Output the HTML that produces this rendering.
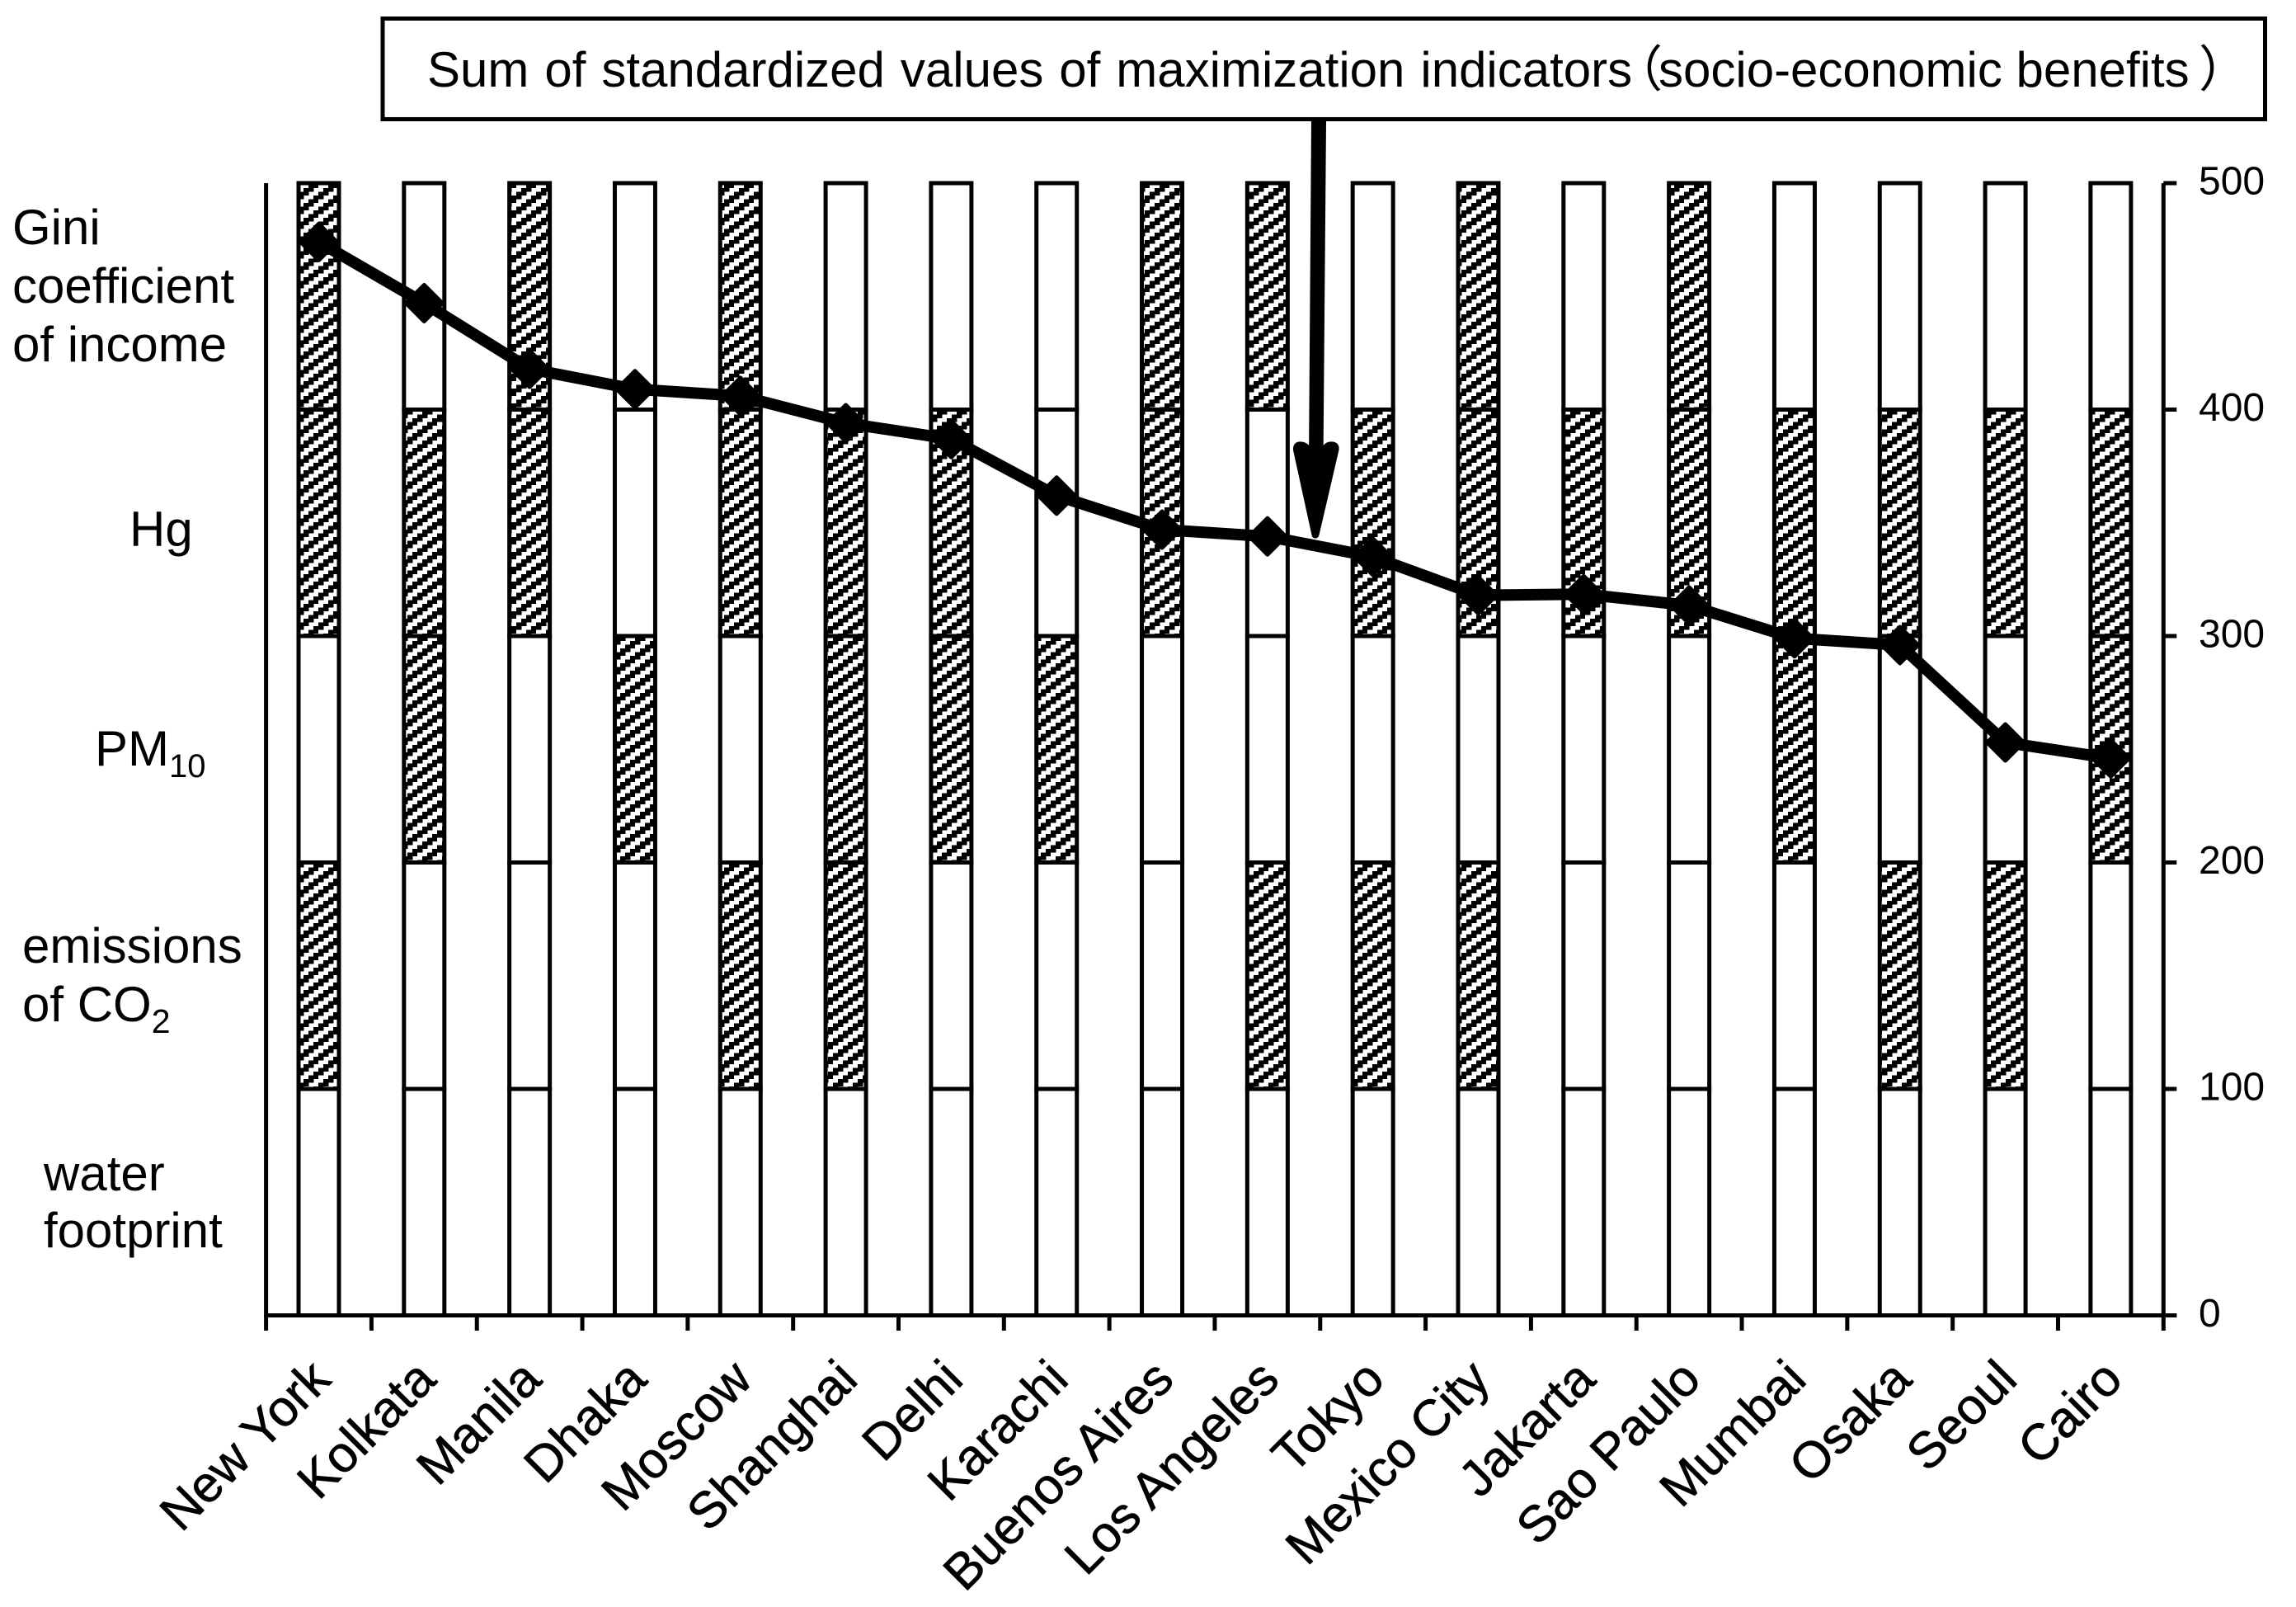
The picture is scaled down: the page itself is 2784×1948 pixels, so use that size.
<!DOCTYPE html>
<html lang="en">
<head>
<meta charset="utf-8">
<title>Sum of standardized values by city</title>
<style>
html,body{margin:0;padding:0;background:#fff;width:2784px;height:1948px;overflow:hidden}
svg{display:block}
text{font-family:"Liberation Sans","Noto Sans CJK JP",sans-serif;fill:#000}
</style>
</head>
<body>
<svg id="chart" xmlns="http://www.w3.org/2000/svg" width="2784" height="1948" viewBox="0 0 2784 1948">
  <defs>
    <pattern id="hatch" patternUnits="userSpaceOnUse" width="24" height="18" x="2" y="3">
      <rect width="24" height="18" fill="#fff"/>
      <rect x="0" y="13.5" width="6.5" height="9" fill="#000"/>
      <rect x="0" y="-4.5" width="6.5" height="9" fill="#000"/>
      <rect x="6" y="9" width="6.5" height="9" fill="#000"/>
      <rect x="12" y="4.5" width="6.5" height="9" fill="#000"/>
      <rect x="18" y="0" width="6" height="9" fill="#000"/>
    </pattern>
  </defs>
  <rect width="2784" height="1948" fill="#fff"/>
  <g id="bars"></g>
  <g id="axes"></g>
  <g id="line-series"></g>

  <g>
    <path d="M1590 147 L1608 147 L1604.5 560 L1587 560 Z" fill="#000"/>
    <path d="M1595 648 L1572.5 545 Q1572 539 1578 540 Q1585 541 1587 550 L1605 550 Q1607 541 1613 540 Q1620 539 1619 545 Z" fill="#000" stroke="#000" stroke-width="9" stroke-linejoin="round"/>
    <rect x="464" y="22.5" width="2282.5" height="122" fill="#fff" stroke="#000" stroke-width="5"/>
    <text y="105" font-size="60"><tspan x="518" word-spacing="2.3">Sum of standardized values of maximization indicators</tspan><tspan x="1956">（</tspan><tspan x="2011">socio-economic benefits</tspan><tspan x="2666">）</tspan></text>
  </g>

  <g font-size="60">
    <text><tspan x="15" y="296">Gini</tspan><tspan x="15" y="367">coefficient</tspan><tspan x="15" y="438">of income</tspan></text>
    <text x="157" y="662">Hg</text>
    <text x="115" y="928">PM<tspan font-size="40" dy="14">10</tspan></text>
    <text><tspan x="27" y="1167">emissions</tspan><tspan x="27" y="1238">of CO</tspan><tspan font-size="41" dy="14">2</tspan></text>
    <text><tspan x="53" y="1443">water</tspan><tspan x="53" y="1512">footprint</tspan></text>
  </g>
</svg>
<script>
const categories = ["New York","Kolkata","Manila","Dhaka","Moscow","Shanghai","Delhi","Karachi","Buenos Aires","Los Angeles","Tokyo","Mexico City","Jakarta","Sao Paulo","Mumbai","Osaka","Seoul","Cairo"];
const sumValues = [474,447,418,409,406,394,387,362,347,344,335,318,318.5,313.5,299,296,253,246];
const yTickLabels = [0,100,200,300,400,500];
const segmentNames = ["water-footprint","co2","pm10","hg","gini"];
const waterValues = [100,100,100,100,100,100,100,100,100,100,100,100,100,100,100,100,100,100];
const co2Values = [100,100,100,100,100,100,100,100,100,100,100,100,100,100,100,100,100,100];
const pm10Values = [100,100,100,100,100,100,100,100,100,100,100,100,100,100,100,100,100,100];
const hgValues = [100,100,100,100,100,100,100,100,100,100,100,100,100,100,100,100,100,100];
const giniValues = [100,100,100,100,100,100,100,100,100,100,100,100,100,100,100,100,100,100];
const waterHatched = [0,0,0,0,0,0,0,0,0,0,0,0,0,0,0,0,0,0];
const co2Hatched = [1,0,0,0,1,1,0,0,0,1,1,1,0,0,0,1,1,0];
const pm10Hatched = [0,1,0,1,0,1,1,1,0,0,0,0,0,0,1,0,0,1];
const hgHatched = [1,1,1,0,1,1,1,0,1,0,1,1,1,1,1,1,1,1];
const giniHatched = [1,0,1,0,1,0,0,0,1,1,0,1,0,1,0,0,0,0];

const SVGNS = "http://www.w3.org/2000/svg";
const plotLeft = 322.6, plotRight = 2623.3, plotBottom = 1594.5, plotTop = 222, yMax = 500;
function xScale(i){ return plotLeft + (i + 0.5) * (plotRight - plotLeft) / categories.length; }
function xEdge(i){ return plotLeft + i * (plotRight - plotLeft) / categories.length; }
function yScale(v){ return plotBottom - v * (plotBottom - plotTop) / yMax; }
function mk(tag, attrs, parent){
  const el = document.createElementNS(SVGNS, tag);
  for (const k in attrs) el.setAttribute(k, attrs[k]);
  parent.appendChild(el);
  return el;
}

const barsGroup = document.getElementById("bars");
const axesGroup = document.getElementById("axes");
const lineGroup = document.getElementById("line-series");
const stackValues = [waterValues, co2Values, pm10Values, hgValues, giniValues];
const stackHatched = [waterHatched, co2Hatched, pm10Hatched, hgHatched, giniHatched];

categories.forEach(function(city, i){
  let base = 0;
  stackValues.forEach(function(series, s){
    const top = base + series[i];
    const seg = mk("rect", {x: xScale(i) - 24.5, y: yScale(top), width: 49, height: yScale(base) - yScale(top),
      fill: stackHatched[s][i] ? "url(#hatch)" : "#fff", stroke: "#000", "stroke-width": 5}, barsGroup);
    
    
    base = top;
  });
});

const leftAxis = mk("line", {x1: plotLeft, y1: plotTop, x2: plotLeft, y2: plotBottom + 2.5, stroke: "#000", "stroke-width": 5}, axesGroup);


const rightAxis = mk("line", {x1: plotRight, y1: plotTop, x2: plotRight, y2: plotBottom + 2.5, stroke: "#000", "stroke-width": 5}, axesGroup);


const bottomAxis = mk("line", {x1: plotLeft, y1: plotBottom, x2: plotRight + 16, y2: plotBottom, stroke: "#000", "stroke-width": 5}, axesGroup);



yTickLabels.forEach(function(v){
  const tick = mk("line", {x1: plotRight, y1: yScale(v), x2: plotRight + 16, y2: yScale(v), stroke: "#000", "stroke-width": 5}, axesGroup);
  
  
  const lab = mk("text", {x: 2666, y: yScale(v) + 13.5, "font-size": 48}, axesGroup);
  
  
  lab.textContent = v;
});

for (let i = 0; i <= categories.length; i++) {
  const tick = mk("line", {x1: xEdge(i), y1: plotBottom, x2: xEdge(i), y2: 1613, stroke: "#000", "stroke-width": 5}, axesGroup);
  
  
}

categories.forEach(function(city, i){
  const px = xScale(i) + 17, py = 1675;
  const lab = mk("text", {x: px, y: py, "font-size": 61.5, "text-anchor": "end", stroke: "#000", "stroke-width": 0.7, transform: "rotate(-45 " + px + " " + py + ")"}, axesGroup);
  
  
  lab.textContent = city;
});

const linePoints = sumValues.map(function(v, i){ return xScale(i) + "," + yScale(v); }).join(" ");
const line = mk("polyline", {points: linePoints, fill: "none", stroke: "#000", "stroke-width": 14, "stroke-linejoin": "round"}, lineGroup);


sumValues.forEach(function(v, i){
  const cx = xScale(i), cy = yScale(v), r = 22;
  const d = mk("polygon", {points: [cx, cy - r, cx + r, cy, cx, cy + r, cx - r, cy].join(" "), fill: "#000", stroke: "#000", "stroke-width": 5, "stroke-linejoin": "round"}, lineGroup);
  
  
});
</script>
</body>
</html>
